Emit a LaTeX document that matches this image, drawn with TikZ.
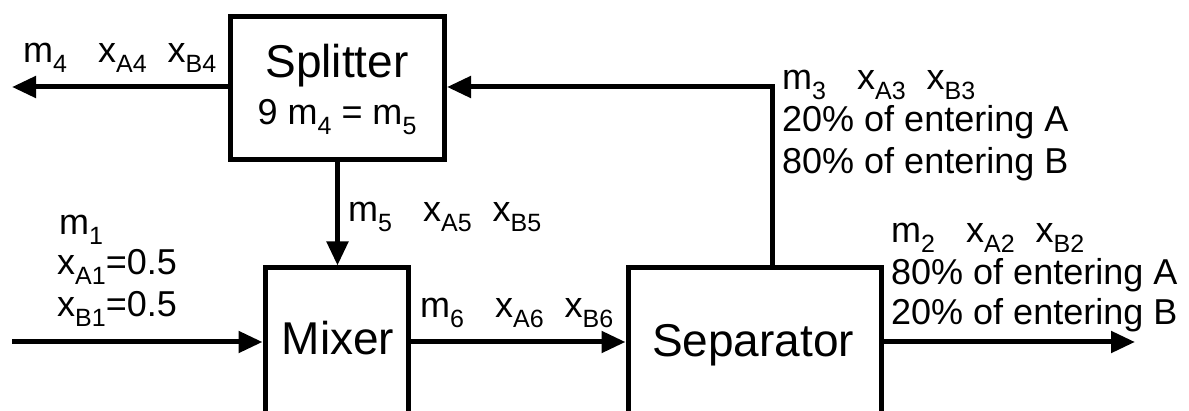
\documentclass[tikz,border=0pt]{standalone}
\usepackage{fontspec}
\setmainfont{Liberation Sans}
\usetikzlibrary{arrows.meta}
\newcommand{\ssub}[1]{\raisebox{-10pt}{\fontsize{25}{25}\selectfont #1}}
\tikzset{
  box/.style={draw=black, line width=5pt, fill=none, inner sep=0pt},
  flow/.style={line width=5pt, -{Triangle[length=24pt,width=21pt]}},
  line/.style={line width=5pt},
  big/.style={font=\fontsize{46}{50}\selectfont, inner sep=0pt, anchor=base},
  lab/.style={font=\fontsize{36}{42}\selectfont, inner sep=0pt, anchor=base west},
}
\begin{document}
\begin{tikzpicture}[x=1pt,y=-1pt]
\useasboundingbox (0,0) rectangle (1189,411);
% boxes
\node[box, minimum width=214pt, minimum height=143pt] (splitter) at (337.5,88) {};
\node[box, minimum width=143pt, minimum height=172pt] (mixer) at (336.5,354) {};
\node[box, minimum width=253pt, minimum height=172pt] (sep) at (754.5,354) {};
% box texts
\node[big] (tsplit) at (337,78) {Splitter};
\node[big, font=\fontsize{36}{42}\selectfont] (tsplit2) at (337,125) {9 m\ssub{4} = m\ssub{5}};
\node[big] (tmix) at (338,355) {Mixer};
\node[big] (tsep) at (753,357) {Separator};
% coordinates
\coordinate (in) at (12,342);
\coordinate (out2) at (1135,342);
\coordinate (out4) at (12,87);
\coordinate (rc) at (772,87);
% connectors
\draw[flow] (in) -- (in -| mixer.west);
\draw[flow] (in -| mixer.east) -- (in -| sep.west);
\draw[flow] (in -| sep.east) -- (out2);
\draw[flow] (rc |- sep.north) -- (rc) -- (rc -| splitter.east);
\draw[flow] (splitter.south) -- (splitter.south |- mixer.north);
\draw[flow] (splitter.west |- out4) -- (out4);
% labels
\node[lab] (l4) at (23,63) {m\ssub{4}\hspace{31pt}x\ssub{A4}\hspace{21pt}x\ssub{B4}};
\node[lab] (l3a) at (782,90) {m\ssub{3}\hspace{31pt}x\ssub{A3}\hspace{21pt}x\ssub{B3}};
\node[lab] (l3b) at (782,132) {20\% of entering A};
\node[lab] (l3c) at (782,174) {80\% of entering B};
\node[lab] (l5) at (348,222) {m\ssub{5}\hspace{31pt}x\ssub{A5}\hspace{21pt}x\ssub{B5}};
\node[lab] (l1a) at (59,235) {m\ssub{1}};
\node[lab] (l1b) at (57,275) {x\ssub{A1}=0.5};
\node[lab] (l1c) at (57,317) {x\ssub{B1}=0.5};
\node[lab] (l6) at (420,318) {m\ssub{6}\hspace{31pt}x\ssub{A6}\hspace{21pt}x\ssub{B6}};
\node[lab] (l2a) at (891,243) {m\ssub{2}\hspace{31pt}x\ssub{A2}\hspace{21pt}x\ssub{B2}};
\node[lab] (l2b) at (891,285) {80\% of entering A};
\node[lab] (l2c) at (891,325) {20\% of entering B};
\end{tikzpicture}
\end{document}
